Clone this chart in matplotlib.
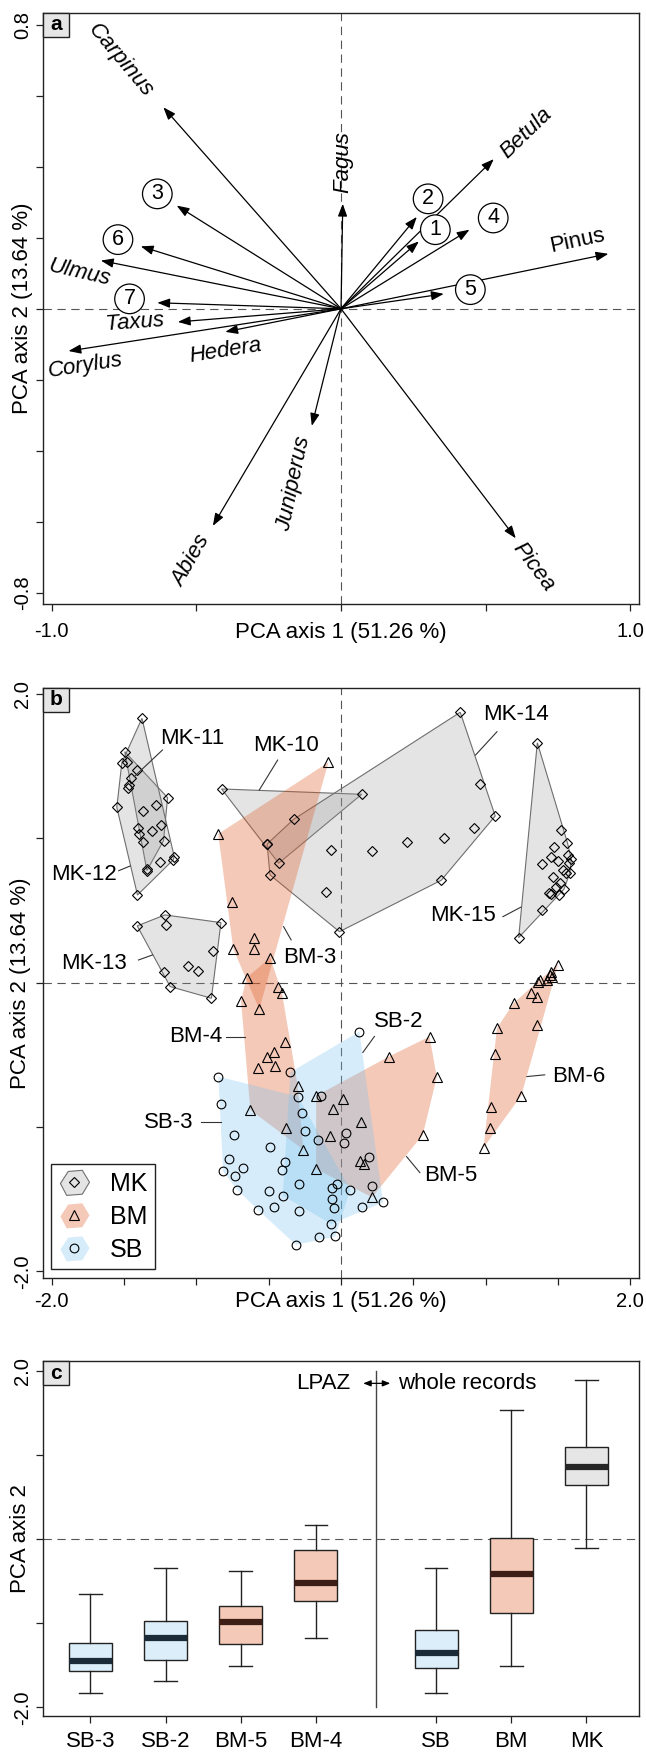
import numpy as np
import matplotlib
matplotlib.use('Agg')
import matplotlib.pyplot as plt
from matplotlib.patches import Polygon, Rectangle, Patch
from matplotlib.lines import Line2D
from matplotlib.legend_handler import HandlerBase

plt.rcParams['font.family'] = ['Liberation Sans', 'DejaVu Sans']
plt.rcParams['lines.scale_dashes'] = False

# ---- panel a: species and zone vectors
species = ['Carpinus', 'Fagus', 'Betula', 'Pinus', 'Ulmus', 'Taxus',
           'Hedera', 'Corylus', 'Juniperus', 'Abies', 'Picea']
sp_x = [-0.614, 0.006, 0.528, 0.924, -0.830, -0.564, -0.400, -0.942, -0.101, -0.443, 0.604]
sp_y = [0.568, 0.296, 0.422, 0.155, 0.136, -0.037, -0.065, -0.119, -0.330, -0.612, -0.647]
sp_lab_x = [-0.764, 0.006, 0.640, 0.818, -0.903, -0.714, -0.400, -0.885, -0.162, -0.519, 0.664]
sp_lab_y = [0.701, 0.415, 0.495, 0.193, 0.103, -0.039, -0.119, -0.161, -0.494, -0.710, -0.729]
sp_rot = [-50, 90, 44, 12, -13, 4, 9, 9, 78, 60, -53]

zones = ['1', '2', '3', '4', '5', '6', '7']
zone_x = [0.269, 0.262, -0.568, 0.444, 0.355, -0.692, -0.635]
zone_y = [0.190, 0.259, 0.291, 0.223, 0.042, 0.176, 0.017]
zone_lab_x = [0.326, 0.301, -0.635, 0.526, 0.447, -0.771, -0.731]
zone_lab_y = [0.223, 0.310, 0.324, 0.256, 0.054, 0.195, 0.028]

# ---- panel b: sample scores by zone
mk10 = [(-0.826, 1.340), (0.143, 1.303), (-0.431, 0.826), (-0.511, 0.959)]
mk11 = [(-1.495, 1.598), (-1.410, 1.471), (-1.199, 1.280), (-1.276, 1.229), (-1.372, 1.188),
        (-1.245, 1.090), (-1.307, 1.049), (-1.227, 0.982), (-1.338, 0.784), (-1.342, 0.775)]
mk12 = [(-1.376, 1.829), (-1.515, 1.522), (-1.480, 1.529), (-1.453, 1.413), (-1.469, 1.367),
        (-1.476, 1.345), (-1.550, 1.213), (-1.402, 1.067), (-1.395, 1.028), (-1.367, 0.975),
        (-1.252, 0.837), (-1.153, 0.872), (-1.160, 0.849), (-1.407, 0.606)]
mk13 = [(-1.409, 0.392), (-1.218, 0.468), (-1.209, 0.399), (-0.830, 0.415), (-0.887, 0.221),
        (-1.058, 0.115), (-0.990, 0.080), (-1.224, 0.071), (-1.181, -0.028), (-0.896, -0.109)]
mk14 = [(0.824, 1.871), (0.958, 1.372), (1.066, 1.153), (0.918, 1.072), (0.709, 0.999),
        (0.455, 0.975), (0.215, 0.911), (0.693, 0.708), (-0.011, 0.352), (-0.069, 0.918),
        (-0.103, 0.625), (-0.491, 0.745), (-0.511, 0.959), (-0.327, 1.130)]
mk15 = [(1.357, 1.660), (1.228, 0.311), (1.389, 0.502), (1.523, 1.056), (1.565, 0.968),
        (1.470, 0.940), (1.454, 0.867), (1.502, 0.842), (1.392, 0.819), (1.569, 0.883),
        (1.592, 0.853), (1.576, 0.826), (1.465, 0.733), (1.534, 0.779), (1.553, 0.761),
        (1.581, 0.756), (1.511, 0.691), (1.484, 0.664), (1.541, 0.646), (1.437, 0.618),
        (1.454, 0.613), (1.504, 0.606)]
bm3 = [(-0.087, 1.525), (-0.849, 1.028), (-0.756, 0.560), (-0.599, 0.311), (-0.745, 0.233),
       (-0.604, 0.233), (-0.565, -0.185)]
bm4 = [(-0.489, 0.172), (-0.653, 0.032), (-0.438, -0.033), (-0.408, -0.074), (-0.691, -0.127),
       (-0.385, -0.409), (-0.461, -0.482), (-0.514, -0.517), (-0.576, -0.593), (-0.454, -0.577),
       (-0.300, -0.713), (-0.627, -0.882), (-0.380, -1.008), (-0.260, -1.158)]
bm5 = [(0.612, -0.374), (0.330, -0.513), (0.662, -0.655), (0.565, -1.055), (-0.172, -0.785),
       (0.012, -0.808), (-0.053, -0.875), (0.139, -0.967), (-0.073, -1.060), (0.134, -1.233),
       (0.162, -1.255), (-0.172, -1.292), (0.215, -1.486)]
bm6 = [(1.500, 0.122), (1.454, 0.075), (1.442, 0.053), (1.461, 0.041), (1.424, 0.018),
       (1.373, 0.018), (1.361, 0.006), (1.316, -0.074), (1.357, -0.102), (1.193, -0.143),
       (1.078, -0.316), (1.357, -0.293), (1.062, -0.496), (1.246, -0.783), (1.039, -0.859),
       (1.027, -1.008), (0.985, -1.143)]
sb2 = [(0.127, -0.340), (-0.350, -0.621), (-0.141, -0.785), (-0.161, -1.089), (0.033, -1.043),
       (0.024, -1.113), (0.195, -1.210), (-0.388, -1.245), (-0.290, -1.394), (-0.403, -1.475),
       (-0.030, -1.396), (0.214, -1.409), (0.291, -1.522), (0.145, -1.551), (-0.069, -1.671)]
sb3 = [(-0.848, -0.651), (-0.830, -0.840), (-0.298, -0.790), (-0.273, -0.905), (-0.248, -1.030),
       (-0.741, -1.053), (-0.491, -1.140), (-0.776, -1.219), (-0.815, -1.307), (-0.678, -1.283),
       (-0.731, -1.342), (-0.411, -1.299), (-0.717, -1.435), (-0.498, -1.441), (-0.062, -1.424),
       (0.064, -1.433), (-0.061, -1.500), (-0.047, -1.560), (-0.572, -1.576), (-0.462, -1.555),
       (-0.291, -1.579), (-0.154, -1.765), (-0.040, -1.758), (-0.311, -1.816)]

b_labels = ['MK-11', 'MK-10', 'MK-14', 'MK-12', 'MK-13', 'MK-15',
            'BM-3', 'BM-4', 'SB-2', 'SB-3', 'BM-5', 'BM-6']
b_lab_x = [-1.026, -0.380, 1.207, -1.779, -1.708, 0.842, -0.219, -1.001, 0.396, -1.194, 0.758, 1.645]
b_lab_y = [1.691, 1.644, 1.852, 0.745, 0.134, 0.461, 0.172, -0.374, -0.271, -0.970, -1.338, -0.651]
lead_x0 = [-1.234, -0.438, 1.078, -1.537, -1.400, 1.119, -0.345, -0.796, 0.231, -0.967, 0.545, 1.408]
lead_y0 = [1.610, 1.540, 1.736, 0.774, 0.156, 0.456, 0.295, -0.374, -0.373, -0.963, -1.316, -0.639]
lead_x1 = [-1.430, -0.565, 0.930, -1.457, -1.303, 1.242, -0.397, -0.662, 0.151, -0.830, 0.453, 1.285]
lead_y1 = [1.425, 1.333, 1.575, 0.807, 0.191, 0.521, 0.387, -0.374, -0.484, -0.963, -1.205, -0.651]

# ---- panel c: box statistics of PCA axis 2
box_labels = ['SB-3', 'SB-2', 'BM-5', 'BM-4', 'SB', 'BM', 'MK']
box_group = ['SB', 'SB', 'BM', 'BM', 'SB', 'BM', 'MK']
box_pos = [1, 2, 3, 4, 5.6, 6.6, 7.6]
whislo = [-1.833, -1.683, -1.504, -1.180, -1.833, -1.504, -0.111]
q1 = [-1.568, -1.437, -1.251, -0.732, -1.528, -0.883, 0.641]
med = [-1.445, -1.172, -0.982, -0.527, -1.358, -0.420, 0.859]
q3 = [-1.239, -0.974, -0.796, -0.131, -1.081, 0.008, 1.089]
whishi = [-0.657, -0.341, -0.380, 0.162, -0.341, 1.532, 1.888]

hull_fill = {'MK': (0.59, 0.59, 0.59, 0.25), 'BM': (0.88, 0.36, 0.16, 0.33),
             'SB': (0.47, 0.76, 0.94, 0.30)}
box_fill = {'MK': '#e6e6e6', 'BM': '#f4c9b7', 'SB': '#dbeefa'}
med_col = {'MK': '#262626', 'BM': '#3d1e16', 'SB': '#1c2b38'}
markers = {'MK': 'D', 'BM': '^', 'SB': 'o'}
msize = {'MK': 5.2, 'BM': 6.5, 'SB': 6.3}

DASH = (0, (6, 4))


def convex_hull(pts):
    pts = sorted(set(pts))
    if len(pts) < 3:
        return pts

    def cross(o, a, b):
        return (a[0] - o[0]) * (b[1] - o[1]) - (a[1] - o[1]) * (b[0] - o[0])
    lower, upper = [], []
    for p in pts:
        while len(lower) >= 2 and cross(lower[-2], lower[-1], p) <= 0:
            lower.pop()
        lower.append(p)
    for p in reversed(pts):
        while len(upper) >= 2 and cross(upper[-2], upper[-1], p) <= 0:
            upper.pop()
        upper.append(p)
    return lower[:-1] + upper[:-1]


def panel_tag(ax, letter):
    fig = ax.figure
    pos = ax.get_position()
    w = 26 / (pos.width * fig.get_figwidth() * fig.dpi)
    h = 24 / (pos.height * fig.get_figheight() * fig.dpi)
    ax.add_patch(Rectangle((0, 1 - h), w, h, transform=ax.transAxes, fc='#e6e6e6',
                           ec='#222222', lw=1, zorder=10, clip_on=False))
    ax.text(w / 2, 1 - h / 2, letter, transform=ax.transAxes, ha='center', va='center',
            fontsize=15, fontweight='bold', zorder=11)


def style_axis(ax, xpad, ylabelx, ylab=None):
    ax.tick_params(axis='both', length=5, width=0.9, color='#222222')
    ax.tick_params(axis='x', pad=xpad)
    ax.tick_params(axis='y', pad=3)
    for lab in ax.get_yticklabels():
        lab.set_rotation(90)
        lab.set_va('center')
        lab.set_ha('right')
    for s in ax.spines.values():
        s.set_linewidth(1)
        s.set_color('#222222')
    if ylab:
        ax.set_ylabel(ylab, fontsize=16)
        ax.yaxis.label.set_va('center')
        ax.yaxis.set_label_coords(ylabelx, 0.5)


class HullHandler(HandlerBase):
    def __init__(self, group):
        super().__init__()
        self.group = group

    def create_artists(self, legend, orig_handle, xdescent, ydescent, width, height, fontsize, trans):
        shape = [(0.05, 0.45), (0.3, 0.95), (0.75, 1.0), (0.98, 0.5), (0.75, 0.0), (0.25, -0.05)]
        fc = hull_fill[self.group]
        ec = '#707070' if self.group == 'MK' else 'none'
        poly = Polygon([(x * width - xdescent, (y * 1.2 - 0.1) * height - ydescent) for x, y in shape],
                       closed=True, fc=fc, ec=ec, lw=0.8, transform=trans)
        mk = Line2D([0.5 * width - xdescent], [0.5 * height - ydescent], marker=markers[self.group],
                    ms=msize[self.group], mfc='none', mec='k', mew=0.8, ls='none', transform=trans)
        return [poly, mk]


fig = plt.figure(figsize=(6.46, 17.52), dpi=100)
ax_a = fig.add_axes([0.0666, 0.6553, 0.9226, 0.3375])
ax_b = fig.add_axes([0.0666, 0.2705, 0.9226, 0.3369])
ax_c = fig.add_axes([0.0666, 0.02055, 0.9226, 0.2026])

# ================= panel a
ax = ax_a
ax.set_xlim(-1.03, 1.03)
ax.set_ylim(-0.832, 0.835)
ax.axhline(0, color='#555555', lw=0.8, ls=DASH, zorder=1)
ax.axvline(0, color='#555555', lw=0.8, ls=DASH, zorder=1)
arrow_kw = dict(arrowstyle='-|>,head_length=0.75,head_width=0.28', color='k', lw=0.9,
                shrinkA=0, shrinkB=0, mutation_scale=10)
for x, y in zip(sp_x + zone_x, sp_y + zone_y):
    ax.annotate('', xy=(x, y), xytext=(0, 0), arrowprops=arrow_kw, zorder=3)
for name, x, y, r in zip(species, sp_lab_x, sp_lab_y, sp_rot):
    ax.text(x, y, name, fontsize=16, style='normal' if name == 'Pinus' else 'italic',
            rotation=r, rotation_mode='anchor', ha='center', va='center', zorder=4)
for z, x, y in zip(zones, zone_lab_x, zone_lab_y):
    ax.text(x, y, z, fontsize=15.5, ha='center', va='center', zorder=4,
            bbox=dict(boxstyle='circle,pad=0.2', fc='white', ec='k', lw=0.9))
ax.set_xticks(np.arange(-1.0, 1.01, 0.5))
ax.set_xticklabels(['-1.0', '', '', '', '1.0'], fontsize=14.5)
ax.set_yticks(np.arange(-0.8, 0.81, 0.2))
ax.set_yticklabels(['-0.8', '', '', '', '', '', '', '', '0.8'], fontsize=14.5)
style_axis(ax, 8, -0.034, 'PCA axis 2 (13.64 %)')
ax.set_xlabel('PCA axis 1 (51.26 %)', fontsize=16)
ax.xaxis.label.set_va('center')
ax.xaxis.set_label_coords(0.5, -0.049)
panel_tag(ax, 'a')

# ================= panel b
ax = ax_b
ax.set_xlim(-2.06, 2.06)
ax.set_ylim(-2.046, 2.04)
ax.axhline(0, color='#555555', lw=0.8, ls=DASH, zorder=1)
ax.axvline(0, color='#555555', lw=0.8, ls=DASH, zorder=1)
groups = [('MK', mk10), ('MK', mk11), ('MK', mk12), ('MK', mk13), ('MK', mk14), ('MK', mk15),
          ('BM', bm3), ('BM', bm4), ('BM', bm5), ('BM', bm6), ('SB', sb2), ('SB', sb3)]
for g, pts in groups:
    h = convex_hull(pts)
    ec = '#6e6e6e' if g == 'MK' else 'none'
    ax.add_patch(Polygon(h, closed=True, fc=hull_fill[g], ec=ec, lw=0.8, zorder=2))
for g, pts in groups:
    xs, ys = zip(*pts)
    ax.plot(xs, ys, ls='none', marker=markers[g], ms=msize[g], mfc='none', mec='k',
            mew=0.8, zorder=5)
for lab, x, y, x0, y0, x1, y1 in zip(b_labels, b_lab_x, b_lab_y, lead_x0, lead_y0, lead_x1, lead_y1):
    ax.plot([x0, x1], [y0, y1], color='#333333', lw=0.8, zorder=6)
    ax.text(x, y, lab, fontsize=16, ha='center', va='center', zorder=7)
ax.set_xticks(np.arange(-2.0, 2.01, 0.5))
ax.set_xticklabels(['-2.0', '', '', '', '', '', '', '', '2.0'], fontsize=14.5)
ax.set_yticks(np.arange(-2.0, 2.01, 1.0))
ax.set_yticklabels(['-2.0', '', '', '', '2.0'], fontsize=14.5)
style_axis(ax, 5, -0.038, 'PCA axis 2 (13.64 %)')
ax.set_xlabel('PCA axis 1 (51.26 %)', fontsize=16)
ax.xaxis.label.set_va('center')
ax.xaxis.set_label_coords(0.5, -0.040)
leg_handles = [Patch(), Patch(), Patch()]
leg = ax.legend(leg_handles, ['MK', 'BM', 'SB'], loc='lower left', bbox_to_anchor=(0.014, 0.0147),
                borderaxespad=0, fontsize=18, handlelength=1.25, handleheight=0.85,
                labelspacing=0.36, borderpad=0.3, handletextpad=0.8, fancybox=False,
                framealpha=1, edgecolor='#222222',
                handler_map={leg_handles[0]: HullHandler('MK'), leg_handles[1]: HullHandler('BM'),
                             leg_handles[2]: HullHandler('SB')})
leg.get_frame().set_linewidth(1)
leg.set_zorder(12)
panel_tag(ax, 'b')

# ================= panel c
ax = ax_c
ax.set_xlim(0.37, 8.30)
ax.set_ylim(-2.102, 2.114)
ax.axhline(0, color='#555555', lw=0.8, ls=DASH, zorder=1)
stats = [dict(whislo=a, q1=b, med=c, q3=d, whishi=e, fliers=[])
         for a, b, c, d, e in zip(whislo, q1, med, q3, whishi)]
bp = ax.bxp(stats, positions=box_pos, widths=0.57, capwidths=0.3, patch_artist=True,
            showfliers=False, manage_ticks=False,
            boxprops=dict(ec='#222222', lw=1), whiskerprops=dict(color='#222222', lw=1),
            capprops=dict(color='#222222', lw=1), medianprops=dict(lw=4.5, solid_capstyle='butt'),
            zorder=3)
for box, m, g in zip(bp['boxes'], bp['medians'], box_group):
    box.set_facecolor(box_fill[g])
    m.set_color(med_col[g])
ax.plot([4.8, 4.8], [-2.0, 2.0], color='#444444', lw=1, zorder=2)
ax.text(4.46, 1.849, 'LPAZ', fontsize=16, ha='right', va='center')
ax.text(5.09, 1.849, 'whole records', fontsize=16, ha='left', va='center')
ax.annotate('', xy=(4.99, 1.849), xytext=(4.63, 1.849),
            arrowprops=dict(arrowstyle='<|-|>,head_length=0.5,head_width=0.2', color='k',
                            lw=0.9, shrinkA=0, shrinkB=0, mutation_scale=9))
ax.set_xticks(box_pos)
ax.set_xticklabels(box_labels, fontsize=16)
ax.set_yticks(np.arange(-2.0, 2.01, 1.0))
ax.set_yticklabels(['-2.0', '', '', '', '2.0'], fontsize=14.5)
style_axis(ax, 5.5, -0.038, 'PCA axis 2')
panel_tag(ax, 'c')

fig.savefig('out.png', dpi=100)
